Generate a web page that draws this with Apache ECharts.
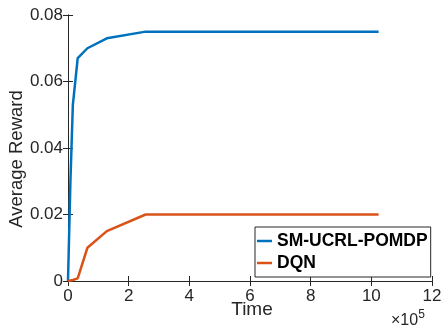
<!DOCTYPE html>
<html>
<head>
<meta charset="utf-8">
<script src="https://cdn.jsdelivr.net/npm/echarts@6/dist/echarts.min.js"></script>
<style>html,body{margin:0;padding:0;background:#fff;}#c{width:443px;height:332px;}</style>
</head>
<body>
<div id="c"></div>
<script>
// Time in units of 1e5
const blueX = [0, 0.08, 0.16, 0.32, 0.64, 1.28, 2.56, 10.24];
const blueY = [0, 0.030, 0.053, 0.067, 0.070, 0.073, 0.075, 0.075];
const orangeX = [0, 0.16, 0.32, 0.64, 1.28, 2.56, 10.24];
const orangeY = [0, 0.0003, 0.0008, 0.010, 0.015, 0.020, 0.020];
const seriesNames = ['SM-UCRL-POMDP', 'DQN'];
const xTicks = [0, 2, 4, 6, 8, 10, 12];
const yTicks = [0, 0.02, 0.04, 0.06, 0.08];

const ink = '#262626';
const font = 'Liberation Sans, Arial, Helvetica, sans-serif';
const chart = echarts.init(document.getElementById('c'), null, {renderer: 'canvas'});
const zip = (xs, ys) => xs.map((x, i) => [x, ys[i]]);
const axisCommon = {
  type: 'value',
  axisLine: {show: true, lineStyle: {color: ink, width: 1}},
  axisTick: {show: true, inside: true, length: 5, lineStyle: {color: ink}},
  splitLine: {show: false}
};
chart.setOption({
  animation: false,
  backgroundColor: '#fff',
  grid: {left: 68, right: 11, top: 15, bottom: 51, containLabel: false, outerBoundsMode: 'none'},
  xAxis: [
    Object.assign({}, axisCommon, {
      min: xTicks[0], max: xTicks[xTicks.length - 1], interval: 2, position: 'bottom',
      axisLabel: {color: ink, fontSize: 17, fontFamily: font, margin: 7},
      name: 'Time', nameLocation: 'middle', nameGap: 19, nameMoveOverlap: false,
      nameTextStyle: {color: ink, fontSize: 19, fontFamily: font, padding: [0, 0, 0, 4]}
    }),
    Object.assign({}, axisCommon, {
      min: xTicks[0], max: xTicks[xTicks.length - 1], interval: 2, position: 'top',
      axisLabel: {show: false}
    })
  ],
  yAxis: [
    Object.assign({}, axisCommon, {
      min: yTicks[0], max: yTicks[yTicks.length - 1], interval: 0.02, position: 'left',
      axisLabel: {color: ink, fontSize: 17, fontFamily: font, margin: 5,
        formatter: v => v === 0 ? '0' : v.toFixed(2)},
      name: 'Average Reward', nameLocation: 'middle', nameGap: 42, nameMoveOverlap: false,
      nameTextStyle: {color: ink, fontSize: 18.5, fontFamily: font, padding: [0, 22, 0, 0]}
    }),
    Object.assign({}, axisCommon, {
      min: yTicks[0], max: yTicks[yTicks.length - 1], interval: 0.02, position: 'right',
      axisLabel: {show: false}
    })
  ],
  legend: {
    data: seriesNames.map(n => ({name: n, icon: 'rect'})),
    orient: 'vertical',
    left: 255, top: 227,
    padding: [5, 3, 5, 2],
    itemGap: 4,
    itemWidth: 15, itemHeight: 2.5,
    itemTextGap: 1,
    backgroundColor: '#fff',
    borderColor: ink, borderWidth: 1, borderRadius: 0,
    textStyle: {color: '#000', fontSize: 17.5, fontWeight: 'bold', fontFamily: font, lineHeight: 18}
  },
  graphic: [{
    type: 'text', left: 391, top: 309,
    style: {
      text: '{a|×10}{b|5}',
      rich: {
        a: {fontSize: 16, fontFamily: font, fill: ink, verticalAlign: 'bottom'},
        b: {fontSize: 12, fontFamily: font, fill: ink, verticalAlign: 'top', padding: [0, 0, 8, 0]}
      }
    }
  }],
  series: [
    {name: seriesNames[0], type: 'line', data: zip(blueX, blueY), showSymbol: false,
     lineStyle: {color: '#0072BD', width: 2.5}, itemStyle: {color: '#0072BD'}},
    {name: seriesNames[1], type: 'line', data: zip(orangeX, orangeY), showSymbol: false,
     lineStyle: {color: '#D95319', width: 2.5}, itemStyle: {color: '#D95319'}}
  ]
});
</script>
</body>
</html>
